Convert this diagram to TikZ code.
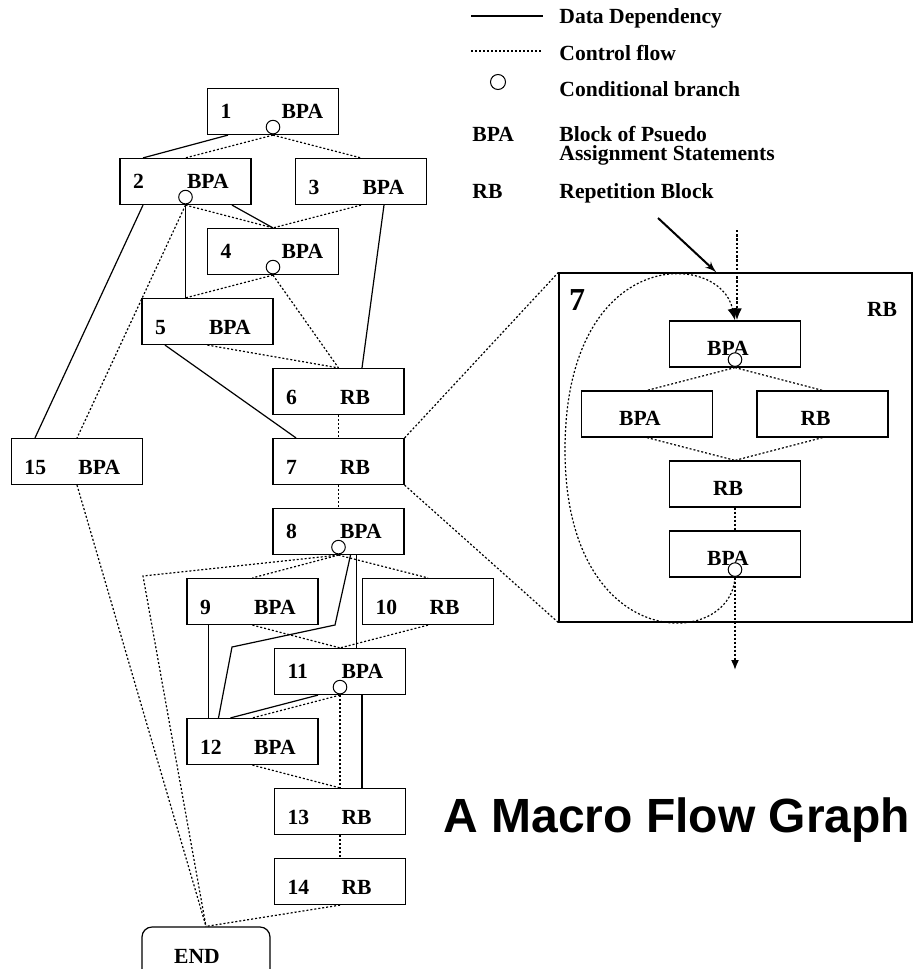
\documentclass[tikz,border=0pt]{standalone}
\usepackage{fontspec}
\setmainfont{Liberation Serif}
\newfontfamily\titlefont{Liberation Sans}
\usepackage{tikz}
\usetikzlibrary{shapes,arrows,arrows.meta}
\newcommand{\numlab}[2]{\makebox[27pt][l]{#1}#2}

\begin{document}
\begin{tikzpicture}[x=0.5pt, y=0.5pt, node distance = 35pt, auto,
	font=\fontsize{10.8}{9.5}\selectfont\bfseries]
	\tikzstyle{block} = [rectangle, draw, line width=0.6pt, minimum width=65.5pt,
	minimum height=23pt, inner xsep=6.5pt, inner ysep=0pt, text width=52.5pt,
	align=left, text height=7.2pt, text depth=0pt]
	\tikzstyle{low} = [text height=13pt]
	\tikzstyle{iblock} = [rectangle, draw, line width=0.6pt, minimum width=65.5pt,
	minimum height=23pt, text height=11pt, text depth=0pt,
	execute at end node={\hspace{7pt}}]
	\tikzstyle{endblock} = [rectangle, draw, line width=0.6pt, rounded corners=5pt,
	minimum width=64pt, minimum height=29.5pt, text height=7.2pt, text depth=0pt,
	execute at end node={\hspace{9pt}}]
	\tikzstyle{cond} = [circle, draw, fill=white, line width=0.5pt, minimum size=6.8pt, inner sep=0pt]
	\tikzstyle{data} = [draw, line width=0.6pt]
	\tikzstyle{ctrl} = [draw, line width=0.6pt, dash pattern=on 1pt off 1pt]
	\tikzstyle{entryarrow} = [draw, -{Latex[length=6pt, width=5pt]}, line width=1.3pt, dash pattern=on 1.2pt off 0.9pt]
	\tikzstyle{exitarrow} = [draw, -{Latex[length=5pt, width=4pt]}, line width=0.8pt, dash pattern=on 1pt off 1pt]
	\tikzstyle{backedge} = [draw, -{Latex[length=6pt, width=5pt]}, line width=0.6pt, dash pattern=on 1pt off 1pt]
	\tikzstyle{pointer} = [draw, -latex', line width=1pt]
	\tikzstyle{keytext} = [anchor=base west, inner sep=0pt]
	\useasboundingbox (0,0) rectangle (924,-969);
	\clip (0,0) rectangle (924,-969);
	% Legend
	\path [data] (471,-16) -- (543,-16);
	\path [ctrl] (471,-51) -- (543,-51);
	\node [cond, minimum size=7.5pt] (lc) at (498,-82) {};
	\node [keytext] (k1) at (559,-24) {Data Dependency};
	\node [keytext] (k2) at (559,-60) {Control flow};
	\node [keytext] (k3) at (559,-96) {Conditional branch};
	\node [keytext] (kbpa) at (472,-141) {BPA};
	\node [keytext] (k4) at (559,-141) {Block of Psuedo};
	\node [keytext] (k5) at (559,-160) {Assignment Statements};
	\node [keytext] (krb) at (472,-198) {RB};
	\node [keytext] (k6) at (559,-198) {Repetition Block};
	% Place nodes
	\node [block] (b1) at (273,-111.5) {\numlab{1}{\hspace{3.5pt}BPA}};
	\node [block, below of=b1, xshift=-43.75pt] (b2) {\numlab{2}{BPA}};
	\node [block, low, below of=b1, xshift=44pt] (b3) {\numlab{3}{BPA}};
	\node [block, below of=b1, node distance=70pt] (b4) {\numlab{4}{\hspace{3.5pt}BPA}};
	\node [block, low, below of=b4, xshift=-32.75pt] (b5) {\numlab{5}{BPA}};
	\node [block, low, below of=b5, xshift=65.5pt] (b6) {\numlab{6}{RB}};
	\node [block, low, below of=b6] (b7) {\numlab{7}{RB}};
	\node [block, low, left of=b7, node distance=130.75pt] (b15) {\numlab{15}{BPA}};
	\node [block, below of=b7] (b8) {\numlab{8}{BPA}};
	\node [block, low, below of=b8, xshift=-43pt] (b9) {\numlab{9}{BPA}};
	\node [block, low, below of=b8, xshift=44.75pt] (b10) {\numlab{10}{RB}};
	\node [block, below of=b8, node distance=70pt, xshift=0.75pt] (b11) {\numlab{11}{BPA}};
	\node [block, low, below of=b11, xshift=-43.75pt] (b12) {\numlab{12}{BPA}};
	\node [block, low, below of=b11, node distance=70pt] (b13) {\numlab{13}{RB}};
	\node [block, low, below of=b13] (b14) {\numlab{14}{RB}};
	\node [endblock, below of=b14, node distance=37.5pt, xshift=-67pt] (end) {END};
	% Expanded repetition block 7
	\node [rectangle, draw, line width=0.6pt, minimum width=176.5pt, minimum height=174.5pt] (zoom7) at (735.5,-447.5) {};
	\node [font=\fontsize{16}{16}\selectfont\bfseries] (z7) at (577,-300) {7};
	\node (zrb) at (882,-309) {RB};
	\node [iblock] (i1) at (735,-344) {BPA};
	\node [iblock, below of=i1, xshift=-44pt] (i2) {BPA};
	\node [iblock, below of=i1, xshift=43.75pt] (i3) {RB};
	\node [iblock, below of=i1, node distance=70pt] (i4) {RB};
	\node [iblock, below of=i4] (i5) {BPA};
	\coordinate (entry) at (737,-230);
	\coordinate (exit) at (735,-670);
	\coordinate (ptr) at (658,-218);
	% Title
	\node [font=\titlefont\bfseries\fontsize{24}{28}\selectfont, anchor=base west, inner sep=0pt] (title) at (443,-832) {A Macro Flow Graph};
	% Draw edges
	\path [data] ([xshift=-22.5pt]b1.south) -- ([xshift=-21.25pt]b2.north);
	\path [ctrl] (b1.south) -- (b2.north);
	\path [ctrl] (b1.south) -- (b3.north);
	\path [data] ([xshift=-21.25pt]b2.south) -- ([xshift=-21pt]b15.north);
	\path [ctrl] (b2.south) -- (b15.north);
	\path [data] (b2.south) -- (b2.south |- b5.north);
	\path [ctrl] (b2.south) -- (b4.north);
	\path [data] ([xshift=23.25pt]b2.south) -- (b4.north);
	\path [ctrl] (b3.south) -- (b4.north);
	\path [data] ([xshift=11.5pt]b3.south) -- ([xshift=11.75pt]b6.north);
	\path [ctrl] (b4.south) -- (b2.south |- b5.north);
	\path [ctrl] (b4.south) -- (b6.north);
	\path [ctrl] (b5.south) -- (b6.north);
	\path [data] ([xshift=-21.25pt]b5.south) -- ([xshift=-21.25pt]b7.north);
	\path [ctrl] (b6.south) -- (b7.north);
	\path [ctrl] (b15.south) -- (end.north);
	\path [ctrl] (b7.north east) -- (zoom7.north west);
	\path [ctrl] (b7.south east) -- (zoom7.south west);
	\path [ctrl] (b7.south) -- (b8.north);
	\path [ctrl] (b8.south) -- (143,-576) -- (end.north);
	\path [ctrl] (b8.south) -- (b9.north);
	\path [ctrl] (b8.south) -- (b10.north);
	\path [data] ([xshift=6pt]b8.south) -- (335,-625) -- (232,-647) -- ([xshift=-17pt]b12.north);
	\path [data] ([xshift=9pt]b8.south) -- ([xshift=9pt]b8.south |- b11.north);
	\path [data] ([xshift=-22pt]b9.south) -- ([xshift=-22pt]b9.south |- b12.north);
	\path [ctrl] (b9.south) -- (b11.north);
	\path [ctrl] (b10.south) -- (b11.north);
	\path [data] ([xshift=-11pt]b11.south) -- ([xshift=-11pt]b12.north);
	\path [ctrl] (b11.south) -- (b12.north);
	\path [ctrl] (b11.south) -- (b13.north);
	\path [data] ([xshift=11pt]b11.south) -- ([xshift=11pt]b11.south |- b13.north);
	\path [ctrl] (b12.south) -- (b13.north);
	\path [ctrl] (b13.south) -- (b14.north);
	\path [ctrl] (b14.south) -- (end.north);
	\path [ctrl] (i1.south) -- (i2.north);
	\path [ctrl] (i1.south) -- (i3.north);
	\path [ctrl] (i2.south) -- (i4.north);
	\path [ctrl] (i3.south) -- (i4.north);
	\path [ctrl] (i4.south) -- (i5.north);
	\path [entryarrow] (entry) -- (entry |- i1.north);
	\path [exitarrow] (i5.south) -- (exit);
	\path [backedge] (i5.south) .. controls (730,-650) and (565,-655) .. (565,-450)
		.. controls (565,-245) and (720,-250) .. (i1.north);
	\path [pointer] (ptr) -- ([xshift=79pt]zoom7.north west);
	% Conditional branches
	\node [cond] (c1) at ([yshift=4pt]b1.south) {};
	\node [cond] (c2) at ([yshift=4pt]b2.south) {};
	\node [cond] (c4) at ([yshift=4pt]b4.south) {};
	\node [cond] (c8) at ([yshift=4pt]b8.south) {};
	\node [cond] (c11) at ([yshift=4pt]b11.south) {};
	\node [cond] (ci1) at ([yshift=4pt]i1.south) {};
	\node [cond] (ci5) at ([yshift=4pt]i5.south) {};
\end{tikzpicture}
\end{document}
